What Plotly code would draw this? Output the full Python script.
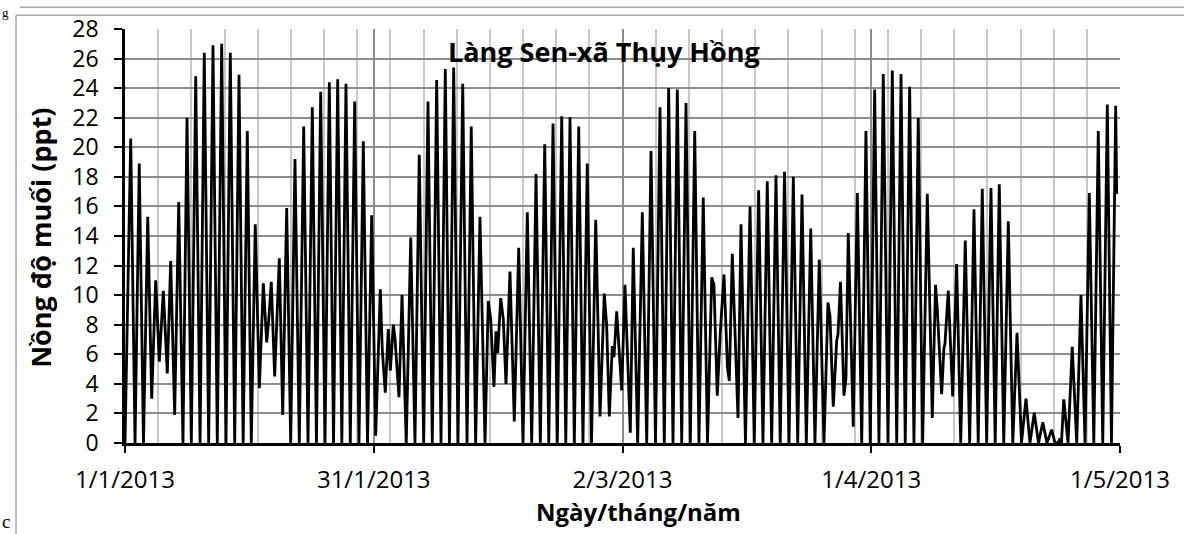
import pandas as pd
import plotly.graph_objects as go

START = "2013-01-01"
END = "2013-05-01"

# Salinity turning points (peaks / troughs), time in days after 1/1/2013, value in ppt
jan_day = [0, 0.69, 1.21, 1.72, 2.23, 2.74, 3.22, 3.70, 4.14, 4.62, 5.10, 5.51,
           5.99, 6.48, 6.99, 7.48, 8.00, 8.53, 9.05, 9.56, 10.09, 10.61, 11.13, 11.66,
           12.18, 12.70, 13.23, 13.75, 14.25, 14.75, 15.23, 15.71, 16.20, 16.68, 17.09, 17.33,
           17.64, 18.05, 18.61, 19.02, 19.50, 19.98, 20.50, 21.02, 21.55, 22.07, 22.59, 23.09,
           23.60, 24.12, 24.64, 25.15, 25.65, 26.15, 26.65, 27.17, 27.70, 28.22, 28.74, 29.25,
           29.75, 30.23, 30.79]
jan_ppt = [0, 20.6, 0, 18.9, 0, 15.3, 3.0, 11.0, 5.5, 10.3, 4.7, 12.3,
           1.9, 16.3, 0, 22.0, 0, 24.8, 0, 26.4, 0, 26.9, 0, 27.0,
           0, 26.4, 0, 24.9, 0, 21.1, 0, 14.8, 3.7, 10.8, 6.8, 8.3,
           10.9, 4.5, 12.5, 1.9, 15.9, 0, 19.2, 0, 21.4, 0, 22.7, 0,
           23.75, 0, 24.4, 0, 24.6, 0, 24.3, 0, 23.1, 0, 20.4, 0,
           15.4, 0.5, 10.4]

feb_day = [31.03, 31.39, 31.75, 32.00, 32.36, 32.56, 33.04, 33.41, 33.92, 34.46, 34.97, 35.49,
           36.02, 36.54, 37.06, 37.59, 38.11, 38.63, 39.13, 39.64, 40.16, 40.73, 41.25, 41.76,
           42.29, 42.81, 43.42, 43.81, 44.10, 44.50, 44.74, 44.95, 45.31, 45.62, 45.95, 46.43,
           46.95, 47.48, 48.00, 48.52, 49.05, 49.57, 50.09, 50.62, 51.11, 51.62, 52.14, 52.67,
           53.16, 53.67, 54.19, 54.72, 55.23, 55.75, 56.26, 56.77, 57.29, 57.80, 58.09, 58.41,
           58.77, 58.97]
feb_ppt = [6.3, 3.4, 7.7, 4.9, 8.0, 7.1, 3.1, 10.0, 0, 13.9, 0, 19.5,
           0, 23.1, 0, 24.55, 0, 25.3, 0, 25.4, 0, 24.3, 0, 21.4,
           0, 15.3, 0, 9.6, 8.4, 3.8, 7.55, 6.1, 9.8, 8.4, 4.0, 11.6,
           1.45, 13.2, 0, 15.6, 0, 18.2, 0, 20.2, 0, 21.6, 0, 22.1,
           0, 22.05, 0, 21.4, 0, 18.9, 0, 15.1, 1.8, 10.1, 8.0, 1.8,
           6.55, 5.8]

mar_day = [59.30, 59.90, 60.30, 60.94, 61.30, 61.83, 62.39, 62.92, 63.44, 63.98, 64.52, 65.04,
           65.57, 66.09, 66.61, 67.14, 67.66, 68.18, 68.71, 69.22, 69.74, 70.25, 70.76, 71.03,
           71.43, 71.79, 72.24, 72.66, 72.88, 73.24, 73.93, 74.29, 74.83, 75.38, 75.89, 76.42,
           76.94, 77.46, 77.99, 78.51, 79.02, 79.54, 80.08, 80.60, 81.13, 81.65, 82.17, 82.70,
           83.21, 83.73, 84.30, 84.78, 85.02, 85.42, 85.83, 85.99, 86.29, 86.71, 86.95, 87.23,
           87.83, 88.32, 88.85, 89.36, 89.88]
mar_ppt = [8.9, 3.55, 10.7, 0.7, 13.2, 0, 15.6, 0, 19.75, 0, 22.7, 0,
           24.0, 0, 23.9, 0, 23.0, 0, 21.1, 0, 16.6, 0, 11.2, 10.7,
           3.2, 7.45, 11.4, 5.1, 4.2, 12.8, 1.7, 14.8, 0, 16.0, 0, 17.1,
           0, 17.7, 0, 18.1, 0, 18.35, 0, 18.0, 0, 16.8, 0, 14.5,
           0, 12.4, 0, 9.5, 8.6, 2.45, 6.9, 7.35, 10.9, 3.2, 4.4, 14.2,
           1.1, 16.9, 0, 21.1, 0]

apr_day = [90.41, 90.93, 91.45, 92.02, 92.54, 93.07, 93.59, 94.10, 94.63, 95.15, 95.67, 96.20,
           96.76, 97.36, 97.75, 97.96, 98.49, 98.77, 98.89, 99.29, 99.82, 100.30, 100.79, 101.34,
           101.87, 102.39, 102.90, 103.39, 103.92, 104.44, 104.95, 105.44, 105.98, 106.53, 107.07, 107.58,
           108.12, 108.66, 109.14, 109.66, 110.17, 110.69, 111.19, 111.76, 112.16, 112.52, 112.76, 112.94,
           113.22, 113.73, 114.24, 114.78, 115.29, 115.78, 116.30, 116.84, 117.38, 117.92, 118.47, 118.97,
           119.48, 119.60]
apr_ppt = [23.9, 0, 24.95, 0, 25.2, 0, 24.95, 0, 24.1, 0, 22.0, 0,
           16.85, 1.7, 10.7, 9.1, 3.3, 6.45, 6.7, 10.3, 3.15, 12.1, 0, 13.7,
           0, 15.8, 0, 17.2, 0, 17.25, 0, 17.5, 0, 15.0, 0, 7.45,
           0, 3.0, 0, 2.05, 0, 1.4, 0, 0.9, 0, 0, 0.3, 0,
           2.95, 0, 6.5, 0, 10.0, 0, 16.9, 0, 21.1, 0, 22.9, 0,
           22.8, 16.85]

TITLE = "Làng Sen-xã Thụy Hồng"
X_TITLE = "Ngày/tháng/năm"
Y_TITLE = "Nồng độ muối (ppt)"

days = jan_day + feb_day + mar_day + apr_day
ppt = jan_ppt + feb_ppt + mar_ppt + apr_ppt
times = pd.Timestamp(START) + pd.to_timedelta(days, unit="D")

DAY_MS = 86400000
FONT = "Open Sans"
FRAME = "#a6a6a6"

fig = go.Figure(
    go.Scatter(
        x=times, y=ppt, mode="lines",
        line=dict(color="black", width=2.8),
        hoverinfo="skip",
    )
)

fig.update_layout(
    width=1184, height=534,
    margin=dict(l=125, r=64, t=25, b=91),
    paper_bgcolor="white", plot_bgcolor="white",
    showlegend=False,
    font=dict(family=FONT, color="black"),
)

fig.update_xaxes(
    type="date",
    range=[START, END],
    tick0=START, dtick=30 * DAY_MS,
    tickformat="%-d/%-m/%Y",
    ticks="outside", ticklen=7, tickwidth=2, tickcolor="black",
    showline=True, linecolor="black", linewidth=2.5,
    showgrid=True, gridcolor="#8c8c8c", gridwidth=1.5,
    minor=dict(tick0=START, dtick=4 * DAY_MS, showgrid=True,
               gridcolor="#c8c8c8", gridwidth=1.5),
    tickfont=dict(family=FONT, size=24, color="black"),
    ticklabelstandoff=6,
)

fig.update_yaxes(
    range=[0, 28], tick0=0, dtick=2,
    ticks="outside", ticklen=8, tickwidth=2, tickcolor="black",
    showline=True, linecolor="black", linewidth=2.5,
    showgrid=True, gridcolor="#8c8c8c", gridwidth=1.5,
    zeroline=False,
    tickfont=dict(family=FONT, size=23, color="black"),
    ticklabelstandoff=11,
)

fig.add_annotation(
    text=f"<b>{TITLE}</b>", xref="paper", yref="paper",
    x=0.481, y=0.945, xanchor="center", yanchor="middle",
    showarrow=False, font=dict(family=FONT, size=27, color="black"),
)
fig.add_annotation(
    text=f"<b>{X_TITLE}</b>", xref="paper", yref="paper",
    x=0.5156, y=-0.1666, xanchor="center", yanchor="middle",
    showarrow=False, font=dict(family=FONT, size=24, color="black"),
)
fig.add_annotation(
    text=f"<b>{Y_TITLE}</b>", xref="paper", yref="paper",
    x=-0.0844, y=0.4956, xanchor="center", yanchor="middle", textangle=-90,
    showarrow=False, font=dict(family=FONT, size=27, color="black"),
)

# Surrounding page fragments and frame
fig.add_annotation(
    text="g", xref="paper", yref="paper", x=-0.1206, y=1.0598,
    xanchor="center", yanchor="top", showarrow=False, borderpad=0,
    font=dict(family="Liberation Serif", size=13, color="black"),
)
fig.add_annotation(
    text="c", xref="paper", yref="paper", x=-0.1196, y=-0.2165,
    xanchor="center", yanchor="bottom", showarrow=False, borderpad=0,
    font=dict(family="Liberation Serif", size=19, color="black"),
)
fig.add_shape(type="line", xref="paper", yref="paper",
              x0=-0.1095, x1=-0.1095, y0=1.0335, y1=-0.25,
              line=dict(color=FRAME, width=1.5))
fig.add_shape(type="line", xref="paper", yref="paper",
              x0=-0.1095, x1=1.08, y0=1.0335, y1=1.0335,
              line=dict(color=FRAME, width=1.5))
fig.add_shape(type="line", xref="paper", yref="paper",
              x0=-0.1055, x1=1.08, y0=1.0526, y1=1.0526,
              line=dict(color=FRAME, width=1.5))

fig.write_html("out.html")
